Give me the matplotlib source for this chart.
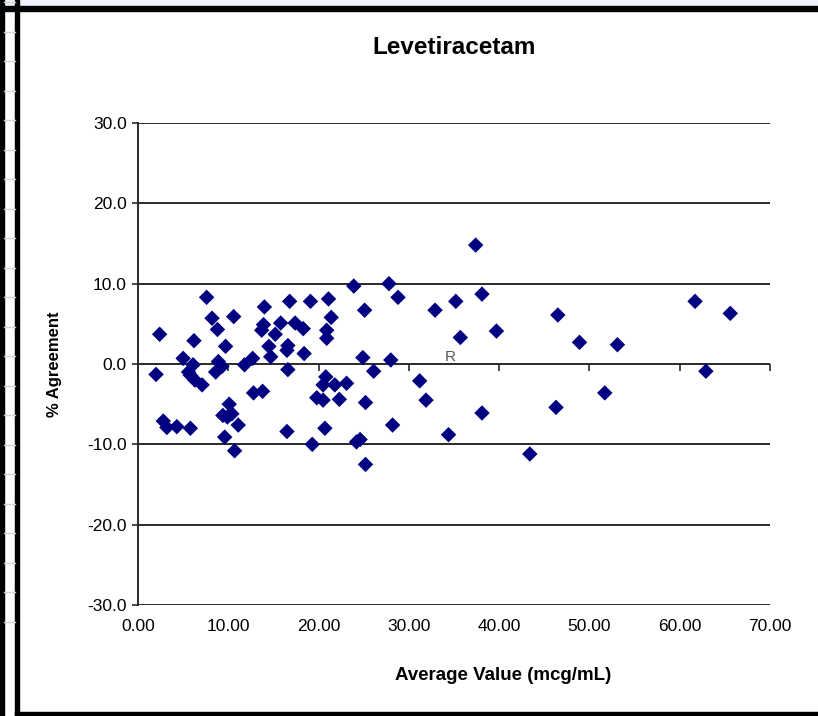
import matplotlib
matplotlib.use("Agg")
import matplotlib.pyplot as plt
from matplotlib.lines import Line2D
from matplotlib.patches import Rectangle

# Average value (mcg/mL) and % agreement
avg_value = [
    2.0, 2.4, 2.8, 3.2, 4.3, 5.0, 5.8, 6.1, 5.6, 5.8,
    6.3, 7.1, 6.2, 7.6, 8.2, 8.8, 8.9, 8.6, 9.3, 9.7,
    10.6, 10.1, 9.4, 9.9, 10.4, 11.1, 9.6, 10.7, 11.8, 12.7,
    12.8, 13.8, 14.0, 13.9, 13.7, 14.5, 14.7, 15.2, 15.8, 16.5,
    16.6, 16.6, 16.5, 16.8, 17.4, 18.3, 18.4, 19.1, 19.8, 19.3,
    20.5, 20.5, 20.8, 20.9, 20.9, 20.7, 21.1, 21.4, 21.8, 22.3,
    23.1, 23.9, 24.2, 24.6, 24.9, 25.1, 25.2, 25.2, 26.1, 27.8,
    28.0, 28.2, 28.8, 31.2, 31.9, 32.9, 34.4, 35.2, 35.7, 37.4,
    38.1, 38.1, 39.7, 43.4, 46.3, 46.5, 48.9, 51.7, 53.1, 61.7,
    62.9, 65.6,
]
pct_agreement = [
    -1.3, 3.7, -7.1, -7.9, -7.8, 0.7, -8.0, -0.1, -1.0, -1.4,
    -2.0, -2.6, 2.9, 8.3, 5.7, 4.3, 0.3, -1.0, -0.3, 2.2,
    5.9, -5.0, -6.4, -6.6, -6.2, -7.6, -9.1, -10.8, -0.1, 0.7,
    -3.6, -3.4, 7.1, 4.9, 4.2, 2.2, 0.9, 3.7, 5.1, 1.7,
    2.3, -0.7, -8.4, 7.8, 5.1, 4.4, 1.3, 7.8, -4.2, -10.0,
    -4.5, -2.6, -1.6, 4.2, 3.2, -8.0, 8.1, 5.8, -2.6, -4.4,
    -2.4, 9.7, -9.7, -9.4, 0.8, 6.7, -4.8, -12.5, -0.9, 10.0,
    0.5, -7.6, 8.3, -2.1, -4.5, 6.7, -8.8, 7.8, 3.3, 14.8,
    8.7, -6.1, 4.1, -11.2, -5.4, 6.1, 2.7, -3.6, 2.4, 7.8,
    -0.9, 6.3,
]

x_ticks = [0, 10, 20, 30, 40, 50, 60, 70]
y_ticks = [-30, -20, -10, 0, 10, 20, 30]

plt.rcParams["font.family"] = ["Liberation Sans", "DejaVu Sans"]

fig = plt.figure(figsize=(8.18, 7.16), dpi=100)
W, H = 818.0, 716.0

# spreadsheet bits around the chart object
fig.patches.append(Rectangle((0, 1 - 6 / H), 1, 6 / H, transform=fig.transFigure,
                             color="#eef3fb", zorder=0))
fig.patches.append(Rectangle((0, 1 - 11 / H), 1, 5 / H, transform=fig.transFigure,
                             color="black", zorder=1))
fig.patches.append(Rectangle((0, 0), 4 / W, 1, transform=fig.transFigure,
                             color="black", zorder=1))
fig.patches.append(Rectangle((15 / W, 0), 4 / W, 1, transform=fig.transFigure,
                             color="black", zorder=1))
fig.patches.append(Rectangle((15 / W, 0), 1, 4 / H, transform=fig.transFigure,
                             color="black", zorder=1))
row_y = 716 - 621.7
while row_y < 716:
    fig.lines.append(Line2D([4 / W, 15 / W], [row_y / H, row_y / H],
                            transform=fig.transFigure, color="#d4d4d4", lw=1))
    row_y += 29.5

ax = fig.add_axes([138 / W, 111 / H, 632 / W, 482 / H])
ax.set_xlim(0, 70)
ax.set_ylim(-30, 30)

ax.scatter(avg_value, pct_agreement, marker="D", s=62, color="#000080",
           edgecolors="none", zorder=3, clip_on=False)

# horizontal gridlines like Excel
for yv in y_ticks:
    ax.axhline(yv, color="#2a2a2a", lw=1.4, zorder=1)

for side in ["top", "right", "bottom"]:
    ax.spines[side].set_visible(False)
ax.spines["left"].set_linewidth(1.4)
ax.spines["left"].set_color("#2a2a2a")

ax.set_yticks(y_ticks)
ax.set_yticklabels([f"{v:.1f}" for v in y_ticks])
ax.tick_params(axis="y", direction="out", length=4, width=1.2, pad=4,
               labelsize=12.5, colors="#2a2a2a", labelcolor="black")

ax.set_xticks(x_ticks)
ax.set_xticklabels([f"{v:.2f}" for v in x_ticks])
ax.tick_params(axis="x", length=0, pad=10, labelsize=12.5, labelcolor="black")

# axis line at zero with tick marks hanging below it
zero_axis = ax.secondary_xaxis(0.5)
zero_axis.set_xticks(x_ticks)
zero_axis.tick_params(axis="x", direction="in", length=5, width=1.2,
                      labelbottom=False, labeltop=False, colors="#2a2a2a")
zero_axis.spines["bottom"].set_visible(False)
zero_axis.spines["top"].set_visible(False)

ax.text(34.6, 0.0, "R", fontsize=11, color="#555555", ha="center", va="bottom")

ax.text(0.5, (716 - 47 - 111) / 482, "Levetiracetam", transform=ax.transAxes,
        fontsize=17.5, fontweight="bold", ha="center", va="center")
fig.text(55 / W, 1 - 364 / H, "% Agreement", fontsize=12, fontweight="bold",
         rotation=90, ha="center", va="center")
fig.text(503 / W, 1 - 676 / H, "Average Value (mcg/mL)", fontsize=13.5,
         fontweight="bold", ha="center", va="center")

fig.savefig("out.png", dpi=100)
